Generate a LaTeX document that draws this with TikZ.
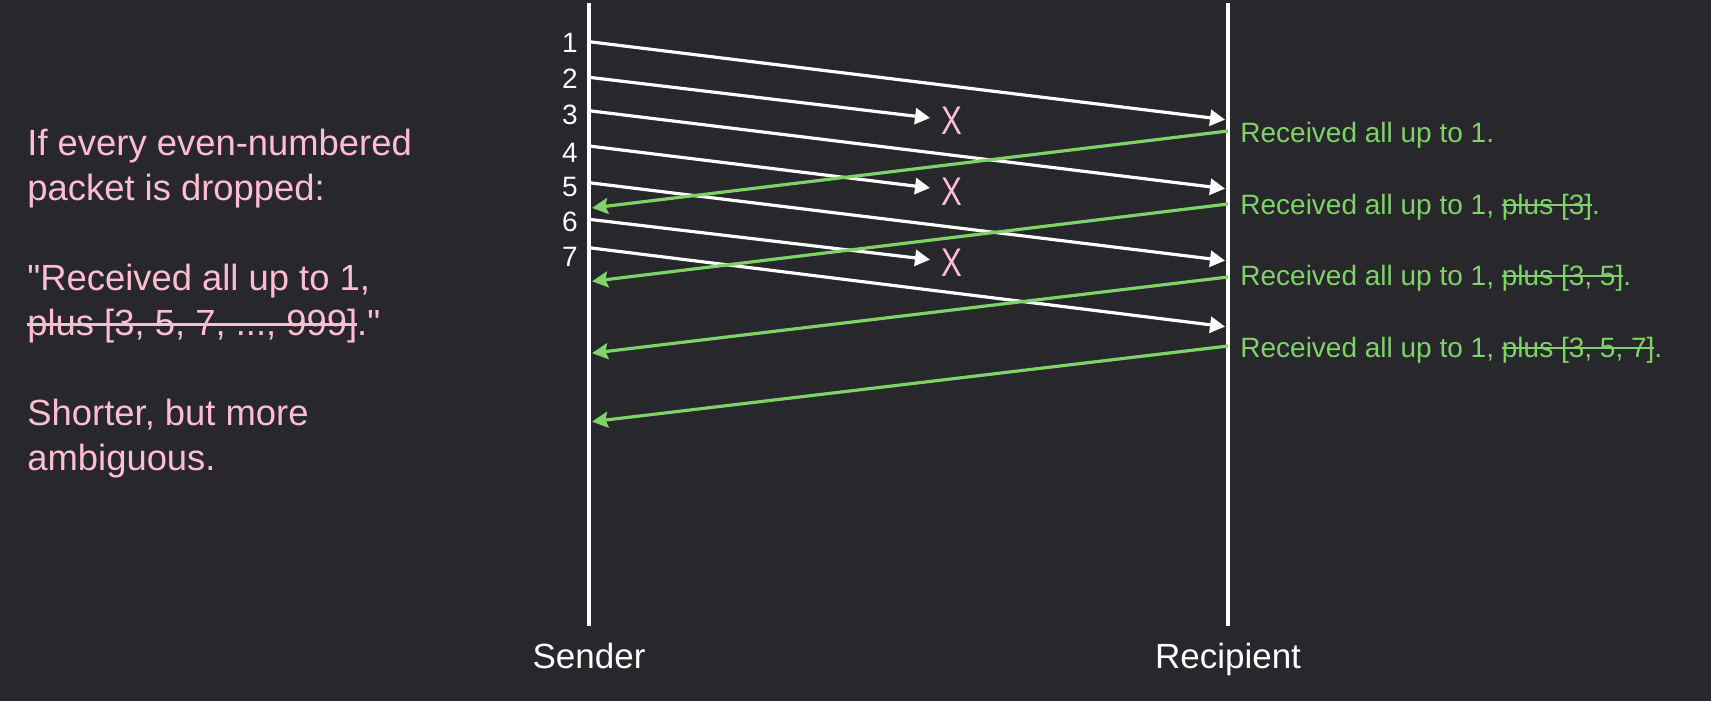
\documentclass[tikz,border=0pt]{standalone}
\usepackage{fontspec}
\usepackage{graphicx}
\setmainfont{Liberation Sans}
\usetikzlibrary{arrows.meta}
\definecolor{board}{RGB}{39,39,44}
\definecolor{ackgreen}{RGB}{126,211,104}
\definecolor{notepink}{RGB}{255,189,211}
\newcommand\struck[1]{\leavevmode\setbox0\hbox{#1}%
  \rlap{\rule[0.27em]{\wd0}{0.07em}}\box0}

\begin{document}
\begin{tikzpicture}[x=0.5pt,y=-0.5pt,
    lifeline/.style={white,line width=2pt},
    packet/.style={white,line width=1.6pt,shorten >=1.5pt,
      -{Triangle[length=7.5pt,width=8pt]}},
    ackline/.style={ackgreen,line width=1.6pt,shorten >=1.5pt,
      -{Stealth[length=8pt,width=8pt,inset=1.2pt]}},
    seqnum/.style={white,font=\fontsize{14}{16}\selectfont,
      anchor=east,inner sep=0pt},
    acktext/.style={ackgreen,font=\fontsize{14}{16}\selectfont,
      anchor=base west,inner sep=0pt},
    dropmark/.style={notepink,font=\fontsize{20}{24}\selectfont,
      inner sep=0pt},
    endpoint/.style={white,font=\fontsize{17.5}{20}\selectfont,
      anchor=base,inner sep=0pt}]
  \fill[board] (0,0) rectangle (1711,701);
  \useasboundingbox (0,0) rectangle (1711,701);

  % lifelines
  \coordinate (sendtop) at (589,3);
  \coordinate (sendbot) at (589,626);
  \coordinate (recvtop) at (1228,3);
  \coordinate (recvbot) at (1228,626);
  \draw[lifeline] (sendtop) -- (sendbot);
  \draw[lifeline] (recvtop) -- (recvbot);
  \node[endpoint] (sender) at (589,668) {Sender};
  \node[endpoint] (recipient) at (1228,668) {Recipient};

  % sequence numbers
  \foreach \n/\y in {1/43.3,2/78.3,3/115,4/153,5/186.7,6/221.7,7/256.7}
    \node[seqnum] (num\n) at (578,\y) {\n};

  % packets that arrive
  \foreach \n/\ys/\ye in {1/41.7/120,3/110.7/189,5/182.7/261,7/247.7/327}{
    \coordinate (out\n) at (589,\ys);
    \coordinate (in\n) at (1228,\ye);
    \draw[packet] (out\n) -- (in\n);
  }
  % packets that are dropped
  \foreach \n/\ys/\ye/\yx in {2/77.3/118.3/121,4/146/188.3/192,6/219.3/260/263}{
    \coordinate (out\n) at (589,\ys);
    \coordinate (lost\n) at (933,\ye);
    \draw[packet] (out\n) -- (lost\n);
    \node[dropmark] (cross\n) at (952,\yx) {\scalebox{0.78}[1]{X}};
  }

  % acknowledgements
  \foreach \k/\ys/\ye in {1/131/208.3,2/204/281.7,3/277/353.5,4/346/422}{
    \coordinate (ackout\k) at (1228,\ys);
    \coordinate (ackin\k) at (589,\ye);
    \draw[ackline] (ackout\k) -- (ackin\k);
  }
  \node[acktext] (ack1) at (1240,142) {Received all up to 1.};
  \node[acktext] (ack2) at (1240,214) {Received all up to 1, \struck{plus [3]}.};
  \node[acktext] (ack3) at (1240,285) {Received all up to 1, \struck{plus [3, 5]}.};
  \node[acktext] (ack4) at (1240,357) {Received all up to 1, \struck{plus [3, 5, 7]}.};

  \node[notepink,font=\fontsize{18.2}{22.5}\selectfont,align=left,
    anchor=north west,inner sep=0pt] (summary) at (27,129) {%
    If every even-numbered\\
    packet is dropped:\\[22.5pt]
    \textquotedbl Received all up to 1,\\
    \struck{plus [3, 5, 7, ..., 999]}.\textquotedbl\\[22.5pt]
    Shorter, but more\\
    ambiguous.};
\end{tikzpicture}
\end{document}
